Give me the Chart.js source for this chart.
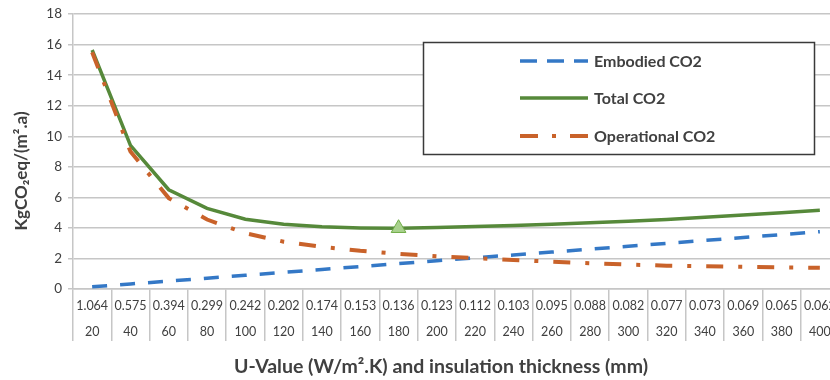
<!DOCTYPE html>
<html>
<head>
<meta charset="utf-8">
<script src="https://cdn.jsdelivr.net/npm/chart.js@4.4.1/dist/chart.umd.min.js"></script>
<style>
    html, body { margin: 0; padding: 0; background: #fff; overflow: hidden; }
    #wrap { position: relative; width: 840px; height: 380px; }
</style>
</head>
<body>
<div id="wrap"><canvas id="co2Chart"></canvas></div>
<script>
// U-value per insulation thickness (two-row category axis)
const uValues = ['1.064', '0.575', '0.394', '0.299', '0.242', '0.202', '0.174', '0.153', '0.136', '0.123',
                 '0.112', '0.103', '0.095', '0.088', '0.082', '0.077', '0.073', '0.069', '0.065', '0.062'];
const thickness = ['20', '40', '60', '80', '100', '120', '140', '160', '180', '200',
                   '220', '240', '260', '280', '300', '320', '340', '360', '380', '400'];

// kgCO2eq/(m2.a)
const embodied = [0.15, 0.33, 0.52, 0.71, 0.90, 1.09, 1.28, 1.47, 1.66, 1.85,
                  2.04, 2.23, 2.42, 2.61, 2.80, 2.99, 3.18, 3.37, 3.56, 3.75];
const total = [15.65, 9.40, 6.50, 5.28, 4.57, 4.24, 4.07, 4.00, 3.98, 4.03,
               4.09, 4.16, 4.24, 4.33, 4.43, 4.55, 4.70, 4.85, 5.00, 5.15];
const operational = [15.50, 9.00, 5.95, 4.55, 3.65, 3.10, 2.76, 2.50, 2.30, 2.15,
                     2.02, 1.90, 1.79, 1.69, 1.60, 1.53, 1.49, 1.45, 1.41, 1.39];

// optimum thickness gets the triangle marker
const optimumIndex = 8;

const yTicks = { min: 0, max: 18, step: 2 };

const FONT = 'Lato, "Open Sans", sans-serif';
const TEXT = '#404040';
const GRID = '#c6c6c6';

// boxed legend inside the plot, plus both axis titles
const annotations = {
    id: 'annotations',
    afterDraw(chart) {
        const ctx = chart.ctx;
        ctx.save();

        // legend box
        ctx.fillStyle = '#fff';
        ctx.strokeStyle = '#3a3a3a';
        ctx.lineWidth = 1.5;
        ctx.fillRect(423.5, 42.5, 391, 112);
        ctx.strokeRect(423.5, 42.5, 391, 112);

        const rows = [61, 98, 136];
        ctx.font = 'bold 16px ' + FONT;
        ctx.textBaseline = 'middle';
        chart.data.datasets.forEach((ds, k) => {
            const y = rows[k];
            ctx.beginPath();
            ctx.strokeStyle = ds.borderColor;
            ctx.lineWidth = ds.borderWidth;
            ctx.setLineDash(ds.legendDash || ds.borderDash || []);
            ctx.moveTo(520, y);
            ctx.lineTo(588, y);
            ctx.stroke();
            ctx.setLineDash([]);
            ctx.fillStyle = TEXT;
            ctx.textAlign = 'left';
            ctx.fillText(ds.label, 594, y + 1);
        });

        // axis titles
        ctx.fillStyle = TEXT;
        ctx.font = 'bold 19.5px ' + FONT;
        ctx.textAlign = 'center';
        ctx.textBaseline = 'middle';
        ctx.fillText('U-Value (W/m\u00B2.K) and insulation thickness (mm)', 441, 367);

        ctx.font = 'bold 17px ' + FONT;
        ctx.translate(22, 171);
        ctx.rotate(-Math.PI / 2);
        ctx.fillText('KgCO\u2082eq/(m\u00B2.a)', 0, 0);
        ctx.restore();
    }
};

const ctx = document.getElementById('co2Chart').getContext('2d');
const chart = new Chart(ctx, {
    type: 'line',
    data: {
        labels: uValues.map((u, i) => [u, thickness[i]]),
        datasets: [
            {
                label: 'Embodied CO2',
                data: embodied,
                borderColor: '#3478c6',
                borderWidth: 3.5,
                borderDash: [15, 13],
                legendDash: [17, 10],
                pointRadius: 0,
                order: 2
            },
            {
                label: 'Total CO2',
                data: total,
                borderColor: '#56893a',
                borderWidth: 3.5,
                pointStyle: 'triangle',
                pointRadius: total.map((v, i) => i === optimumIndex ? 8.5 : 0),
                pointBackgroundColor: '#a9d18e',
                pointBorderColor: '#70ad47',
                pointBorderWidth: 1,
                order: 1
            },
            {
                label: 'Operational CO2',
                data: operational,
                borderColor: '#c9622a',
                borderWidth: 4,
                borderDash: [17, 15, 4, 15],
                legendDash: [18, 14, 4, 14],
                pointRadius: 0,
                order: 0
            }
        ]
    },
    options: {
        responsive: true,
        maintainAspectRatio: false,
        animation: false,
        layout: { padding: { top: 13, right: 1, bottom: 0, left: 0 } },
        plugins: {
            legend: { display: false },
            tooltip: { enabled: false }
        },
        elements: { line: { tension: 0, borderCapStyle: 'butt' } },
        scales: {
            x: {
                type: 'category',
                offset: true,
                afterFit: (scale) => { scale.height = 91; },
                border: { color: GRID, width: 1.5 },
                grid: {
                    offset: true,
                    drawOnChartArea: false,
                    tickLength: 52,
                    color: GRID,
                    lineWidth: 1.5
                },
                ticks: {
                    autoSkip: false,
                    maxRotation: 0,
                    padding: -48,
                    color: TEXT,
                    font: { family: FONT, size: 12.5, lineHeight: 26 / 12.5 }
                }
            },
            y: {
                min: yTicks.min,
                max: yTicks.max,
                afterFit: (scale) => { scale.width = 73; },
                border: { color: GRID, width: 1.5 },
                grid: { color: GRID, lineWidth: 1.5, tickLength: 5 },
                ticks: {
                    stepSize: yTicks.step,
                    padding: 6,
                    color: TEXT,
                    font: { family: FONT, size: 13.5 }
                }
            }
        }
    },
    plugins: [annotations]
});
</script>
</body>
</html>
